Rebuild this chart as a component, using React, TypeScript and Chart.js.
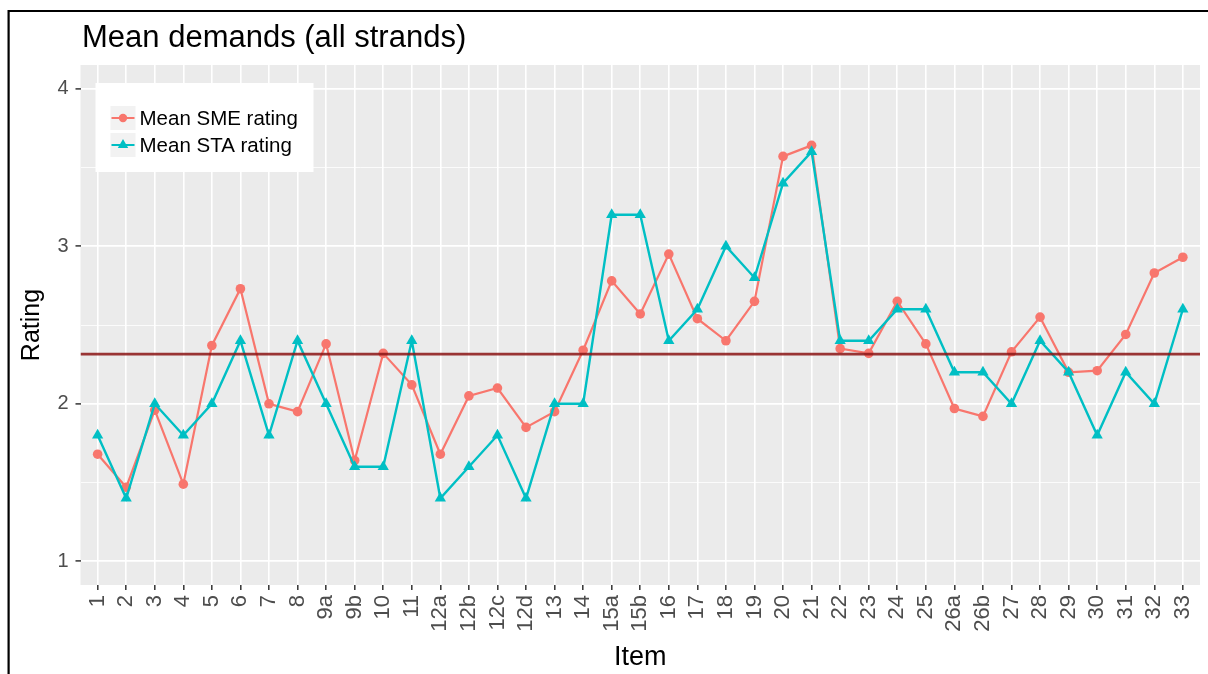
import React, { useEffect, useRef } from 'react';
import { Chart, registerables } from 'chart.js';

Chart.register(...registerables);

// ---- data ----
const items = [
  '1', '2', '3', '4', '5', '6', '7', '8', '9a', '9b', '10', '11',
  '12a', '12b', '12c', '12d', '13', '14', '15a', '15b', '16', '17', '18', '19',
  '20', '21', '22', '23', '24', '25', '26a', '26b', '27', '28', '29', '30',
  '31', '32', '33',
];

const smeRating = [
  1.68, 1.47, 1.96, 1.49, 2.37, 2.73, 2.0, 1.95, 2.38, 1.64, 2.32, 2.12,
  1.68, 2.05, 2.1, 1.85, 1.95, 2.34, 2.78, 2.57, 2.95, 2.54, 2.4, 2.65,
  3.57, 3.64, 2.35, 2.32, 2.65, 2.38, 1.97, 1.92, 2.33, 2.55, 2.2, 2.21,
  2.44, 2.83, 2.93,
];

const staRating = [
  1.8, 1.4, 2.0, 1.8, 2.0, 2.4, 1.8, 2.4, 2.0, 1.6, 1.6, 2.4,
  1.4, 1.6, 1.8, 1.4, 2.0, 2.0, 3.2, 3.2, 2.4, 2.6, 3.0, 2.8,
  3.4, 3.6, 2.4, 2.4, 2.6, 2.6, 2.2, 2.2, 2.0, 2.4, 2.2, 1.8,
  2.2, 2.0, 2.6,
];

const meanLevel = 2.315;
const yTickValues = [1, 1.5, 2, 2.5, 3, 3.5, 4];
const yLimits = [0.85, 4.15];
const seriesLabels = ['Mean SME rating', 'Mean STA rating'];
const titleText = 'Mean demands (all strands)';
const xTitle = 'Item';
const yTitle = 'Rating';

// ---- styles ----
const SME_COLOR = '#F8766D';
const STA_COLOR = '#00BFC4';
const MEAN_COLOR = 'rgba(139, 20, 20, 0.85)';
const FONT = "'Liberation Sans', Arial, Helvetica, sans-serif";
const W = 1208;
const H = 674;

function drawMarker(ctx: CanvasRenderingContext2D, style: string, x: number, y: number, r: number) {
  ctx.beginPath();
  if (style === 'triangle') {
    let rad = 0;
    ctx.moveTo(x + Math.sin(rad) * r, y - Math.cos(rad) * r);
    rad += (2 * Math.PI) / 3;
    ctx.lineTo(x + Math.sin(rad) * r, y - Math.cos(rad) * r);
    rad += (2 * Math.PI) / 3;
    ctx.lineTo(x + Math.sin(rad) * r, y - Math.cos(rad) * r);
    ctx.closePath();
  } else {
    ctx.arc(x, y, r, 0, Math.PI * 2);
  }
  ctx.fill();
}

export default function App() {
  const ref = useRef<HTMLCanvasElement>(null);

  useEffect(() => {
    const canvas = ref.current;
    if (!canvas) return;

    const decor = {
      id: 'decor',
      beforeDraw(chart: any) {
        const { ctx, chartArea: a } = chart;
        ctx.save();
        ctx.fillStyle = '#ffffff';
        ctx.fillRect(0, 0, chart.width, chart.height);
        ctx.fillStyle = '#EBEBEB';
        ctx.fillRect(a.left, a.top, a.right - a.left, a.bottom - a.top);
        // outer frame (top and left edges visible)
        ctx.strokeStyle = '#000';
        ctx.lineWidth = 2.2;
        ctx.beginPath();
        ctx.moveTo(8.6, chart.height);
        ctx.lineTo(8.6, 11);
        ctx.lineTo(chart.width, 11);
        ctx.stroke();
        // title
        ctx.fillStyle = '#000';
        ctx.font = `31px ${FONT}`;
        ctx.textAlign = 'left';
        ctx.textBaseline = 'alphabetic';
        ctx.fillText(titleText, 82, 47);
        ctx.restore();
      },
      afterDraw(chart: any) {
        const { ctx, chartArea: a } = chart;
        ctx.save();
        const bx = a.left + 15;
        const by = a.top + 18;
        ctx.fillStyle = '#ffffff';
        ctx.fillRect(bx, by, 218, 89);
        const styles = ['circle', 'triangle'];
        const colors = [SME_COLOR, STA_COLOR];
        const radii = [4.2, 6];
        for (let i = 0; i < 2; i++) {
          const kx = bx + 15;
          const ky = by + 23 + i * 27;
          ctx.fillStyle = '#F2F2F2';
          ctx.fillRect(kx, ky, 25, 24);
          const cy = ky + 12;
          ctx.strokeStyle = colors[i];
          ctx.lineWidth = 2;
          ctx.beginPath();
          ctx.moveTo(kx + 1, cy);
          ctx.lineTo(kx + 24, cy);
          ctx.stroke();
          ctx.fillStyle = colors[i];
          drawMarker(ctx, styles[i], kx + 12.5, cy, radii[i]);
          ctx.fillStyle = '#000';
          ctx.font = `20.5px ${FONT}`;
          ctx.textAlign = 'left';
          ctx.textBaseline = 'middle';
          ctx.fillText(seriesLabels[i], kx + 29, cy + 1);
        }
        ctx.restore();
      },
    };

    const chart = new Chart(canvas, {
      type: 'line',
      data: {
        datasets: [
          {
            label: seriesLabels[0],
            data: items.map((_, i) => ({ x: i, y: smeRating[i] })),
            borderColor: SME_COLOR,
            backgroundColor: SME_COLOR,
            pointStyle: 'circle',
            pointRadius: 4.8,
            pointBorderWidth: 0,
            borderWidth: 2.2,
            tension: 0,
            order: 2,
          },
          {
            label: seriesLabels[1],
            data: items.map((_, i) => ({ x: i, y: staRating[i] })),
            borderColor: STA_COLOR,
            backgroundColor: STA_COLOR,
            pointStyle: 'triangle',
            pointRadius: 6.5,
            pointBorderWidth: 0,
            borderWidth: 2.4,
            tension: 0,
            order: 1,
          },
          {
            label: 'mean',
            data: [
              { x: -0.6, y: meanLevel },
              { x: items.length - 0.4, y: meanLevel },
            ],
            borderColor: MEAN_COLOR,
            borderWidth: 2.6,
            pointRadius: 0,
            order: 0,
          },
        ],
      },
      options: {
        animation: false,
        responsive: false,
        devicePixelRatio: 1,
        layout: { padding: { top: 65, right: 8, left: 0, bottom: 0 } },
        plugins: {
          legend: { display: false },
          tooltip: { enabled: false },
          title: { display: false },
        },
        scales: {
          x: {
            type: 'linear',
            min: -0.6,
            max: items.length - 0.4,
            afterBuildTicks: (s: any) => {
              s.ticks = items.map((_, i) => ({ value: i }));
            },
            afterFit: (s: any) => {
              s.height = 89;
              s.paddingLeft = 0;
              s.paddingRight = 0;
            },
            ticks: {
              autoSkip: false,
              maxRotation: 90,
              minRotation: 90,
              padding: 5,
              color: '#4D4D4D',
              font: { family: FONT, size: 22 },
              callback: (v: any) => items[v] ?? '',
            },
            grid: {
              color: '#ffffff',
              lineWidth: 1.6,
              tickColor: '#333333',
              tickWidth: 1.5,
              tickLength: 5,
            },
            border: { display: false },
            title: {
              display: true,
              text: xTitle,
              color: '#000',
              font: { family: FONT, size: 27 },
              padding: { top: 0, bottom: 0 },
            },
          },
          y: {
            type: 'linear',
            min: yLimits[0],
            max: yLimits[1],
            afterBuildTicks: (s: any) => {
              s.ticks = yTickValues.map((v) => ({ value: v }));
            },
            afterFit: (s: any) => {
              s.width = 80.5;
              s.paddingTop = 0;
              s.paddingBottom = 0;
            },
            ticks: {
              padding: 7,
              color: '#4D4D4D',
              font: { family: FONT, size: 20 },
              callback: (v: any) => (Number.isInteger(v) ? String(v) : ''),
            },
            grid: {
              color: '#ffffff',
              lineWidth: (c: any) => (Number.isInteger(c.tick?.value) ? 1.8 : 0.8),
              tickColor: (c: any) => (Number.isInteger(c.tick?.value) ? '#333333' : 'rgba(0,0,0,0)'),
              tickWidth: 1.5,
              tickLength: 5,
            },
            border: { display: false },
            title: {
              display: true,
              text: yTitle,
              color: '#000',
              font: { family: FONT, size: 25 },
              padding: { top: 17, bottom: 0 },
            },
          },
        },
      },
      plugins: [decor],
    } as any);

    return () => chart.destroy();
  }, []);

  return (
    <div style={{ position: 'absolute', left: 0, top: 0, width: W, height: H, background: '#fff' }}>
      <canvas ref={ref} width={W} height={H} style={{ display: 'block', width: W, height: H }} />
    </div>
  );
}
